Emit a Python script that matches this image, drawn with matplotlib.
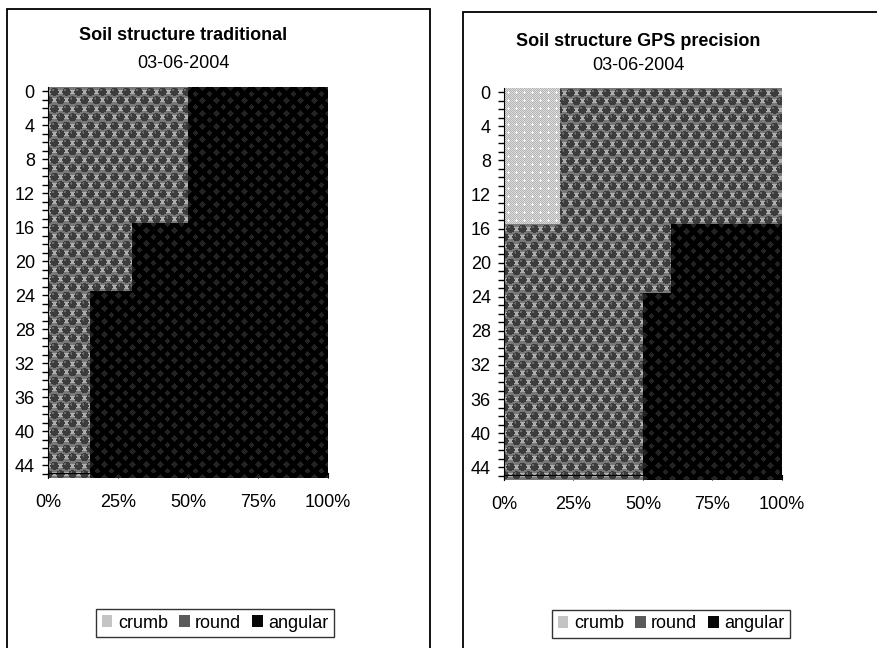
import numpy as np
import matplotlib
matplotlib.use('Agg')
import matplotlib.pyplot as plt
from matplotlib.path import Path
from matplotlib.patches import Rectangle, Patch

plt.rcParams['font.family'] = ['Liberation Sans', 'DejaVu Sans']
plt.rcParams['font.size'] = 13

# depth rows (cm), one bar per row
depth = list(range(46))
classes = ['crumb', 'round', 'angular']

# share of each structure class per row, in percent
trad_crumb = [0] * 46
trad_round = [50] * 16 + [30] * 8 + [15] * 22
trad_angular = [50] * 16 + [70] * 8 + [85] * 22

gps_crumb = [20] * 16 + [0] * 30
gps_round = [80] * 16 + [60] * 8 + [50] * 22
gps_angular = [0] * 16 + [40] * 8 + [50] * 22

titles = ['Soil structure traditional', 'Soil structure GPS precision']
date_label = '03-06-2004'
xtick_vals = [0, 25, 50, 75, 100]
xtick_labels = ['0%', '25%', '50%', '75%', '100%']

base_colors = {'crumb': '#c4c4c4', 'round': '#5a5a5a', 'angular': '#080808'}


def make_texture(kind, w, h):
    # pixel pattern fills that look like the old spreadsheet fills
    yy, xx = np.mgrid[0:h, 0:w].astype(float)
    if kind == 'crumb':
        img = np.where((xx + yy) % 2 == 0, 0.70, 0.86)
        sx, sy = xx % 8, yy % 8
        plus = ((sx == 4) & (np.abs(sy - 4) <= 1)) | ((sy == 4) & (np.abs(sx - 4) <= 1))
        img[plus] = 1.0
    elif kind == 'round':
        px, py = 12.0, 8.5
        row = np.floor(yy / py)
        cx = (xx - (row % 2) * px / 2) % px - px / 2
        cy = yy % py - py / 2
        img = np.full((h, w), 0.47)
        # light squares sitting between the balls
        sq = (np.abs(np.abs(cx) - px / 2) < 2.2) & (np.abs(cy) < 2.2)
        img[sq] = 0.68
        img[np.hypot(cx, cy) < 4.1] = 0.24
        img[np.hypot(cx + 1.2, cy + 1.7) < 1.1] = 0.42
    else:
        u = (xx % 14) - 7
        v = (yy % 13) - 6.5
        u2 = ((xx + 7) % 14) - 7
        v2 = ((yy + 6.5) % 13) - 6.5
        d = (np.abs(u) / 7 + np.abs(v) / 6.5 < 0.5) | (np.abs(u2) / 7 + np.abs(v2) / 6.5 < 0.5)
        img = np.where(d, 0.14, 0.0)
    return img


W, H, DPI = 8.78, 6.48, 100
fig = plt.figure(figsize=(W, H), dpi=DPI)

# panel frames (they run off the bottom / right of the picture)
fig.patches.append(Rectangle((7 / 878, -0.05), 423 / 878, 1.05 - 9 / 648, transform=fig.transFigure,
                             fill=False, edgecolor='black', linewidth=1.3))
fig.patches.append(Rectangle((463 / 878, -0.05), 0.5, 1.05 - 12 / 648, transform=fig.transFigure,
                             fill=False, edgecolor='black', linewidth=1.3))

panels = [
    dict(data=[trad_crumb, trad_round, trad_angular], rect=[48 / 878, 170 / 648, 280 / 878, 391 / 648],
         tx=183, ty=36, dy=64, leg=(215, 623)),
    dict(data=[gps_crumb, gps_round, gps_angular], rect=[504 / 878, 168 / 648, 278 / 878, 392 / 648],
         tx=638, ty=41, dy=65.5, leg=(671, 624)),
]

for i, p in enumerate(panels):
    ax = fig.add_axes(p['rect'])
    ax.patch.set_alpha(0)
    pos = ax.get_position()
    wpx = int(round(pos.width * W * DPI))
    hpx = int(round(pos.height * H * DPI))

    left = np.zeros(len(depth))
    for name, vals in zip(classes, p['data']):
        bars = ax.barh(depth, vals, left=left, height=1.0, color=base_colors[name],
                       edgecolor='none', linewidth=0)
        left = left + np.array(vals)
        paths = [b.get_path().transformed(b.get_patch_transform()) for b in bars if b.get_width() > 0]
        if not paths:
            continue
        clip = Path.make_compound_path(*paths)
        im = ax.imshow(make_texture(name, wpx, hpx), cmap='gray', vmin=0, vmax=1,
                       extent=[0, 100, 45.5, -0.5], origin='upper', aspect='auto',
                       interpolation='nearest', zorder=2)
        im.set_clip_path(clip, ax.transData)

    ax.set_xlim(0, 100)
    ax.set_ylim(45.5, -0.5)
    ax.set_yticks(range(0, 45, 4))
    ax.set_yticks(depth, minor=True)
    ax.set_xticks(xtick_vals)
    ax.set_xticklabels(xtick_labels)
    ax.tick_params(axis='y', which='both', direction='out', length=4.5, width=1, pad=5)
    ax.tick_params(axis='x', direction='out', length=3.5, width=0.8, pad=12)
    ax.spines['top'].set_visible(False)
    ax.spines['right'].set_visible(False)
    ax.spines['bottom'].set_position(('data', 44.9))
    ax.spines['bottom'].set_zorder(3)

    fig.text(p['tx'] / 878, 1 - p['ty'] / 648, titles[i], ha='center', va='center',
             fontweight='bold', fontsize=13)
    fig.text(p['tx'] / 878, 1 - p['dy'] / 648, date_label, ha='center', va='center', fontsize=13)

    handles = [Patch(facecolor=base_colors[c], edgecolor='none') for c in classes]
    leg = fig.legend(handles, classes, loc='center',
                     bbox_to_anchor=(p['leg'][0] / 878, 1 - p['leg'][1] / 648),
                     ncol=3, frameon=True, fancybox=False, handlelength=0.6, handleheight=0.6,
                     handletextpad=0.3, columnspacing=0.6, borderpad=0.3, fontsize=13)
    leg.get_frame().set_edgecolor('black')
    leg.get_frame().set_linewidth(1.0)

fig.savefig('out.png', dpi=DPI)
